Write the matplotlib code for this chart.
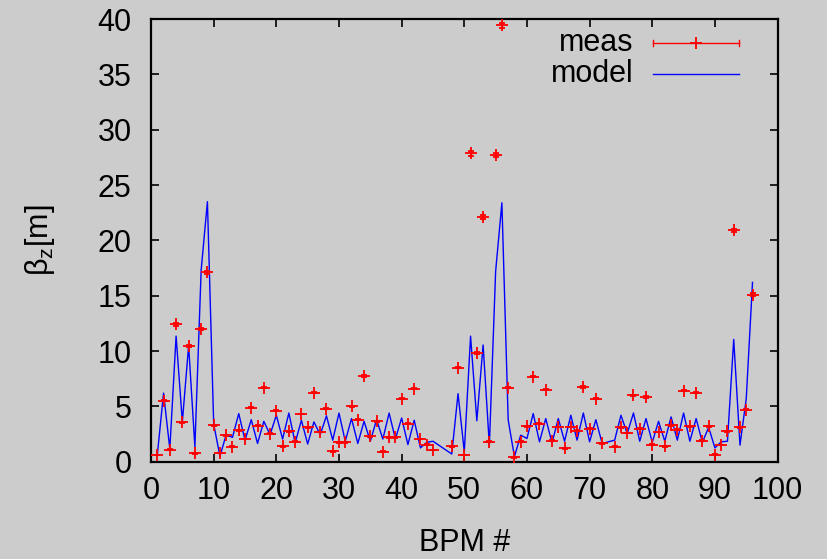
import matplotlib
matplotlib.use('Agg')
import matplotlib.pyplot as plt

plt.rcParams['font.family'] = ['Liberation Sans', 'DejaVu Sans']
plt.rcParams['mathtext.fontset'] = 'custom'
plt.rcParams['mathtext.rm'] = 'Liberation Sans'
plt.rcParams['mathtext.it'] = 'Liberation Sans'

# BPM indices (46, 47 and 73 are absent)
bpm = list(range(1, 46)) + list(range(48, 73)) + list(range(74, 97))

meas = [0.6, 5.5, 1.1, 12.4, 3.55, 10.45, 0.75, 12.0, 17.1, 3.3,
        0.8, 2.4, 1.35, 2.85, 2.05, 4.87, 3.25, 6.7, 2.55, 4.6,
        1.4, 2.75, 1.8, 4.3, 3.1, 6.25, 2.7, 4.8, 0.95, 1.75,
        1.75, 5.0, 3.8, 7.75, 2.3, 3.65, 0.9, 2.2, 2.2, 5.7,
        3.45, 6.6, 2.05, 1.55, 1.05,
        1.4, 8.5, 0.6, 27.85, 9.8, 22.1, 1.8, 27.7, 39.45, 6.7,
        0.4, 1.8, 3.2, 7.7, 3.45, 6.5, 1.9, 3.15, 1.2, 3.15,
        2.8, 6.75, 3.0, 5.7, 1.65,
        1.35, 3.1, 2.6, 6.0, 3.0, 5.85, 1.55, 2.7, 1.4, 3.3,
        2.9, 6.4, 3.2, 6.25, 1.9, 3.2, 0.65, 1.5, 2.75, 20.9,
        3.1, 4.7, 15.1]

meas_err = [.03, .05, .03, .12, .03, .1, .03, .1, .15, .03,
            .03, .03, .03, .03, .03, .03, .03, .05, .03, .03,
            .03, .03, .03, .03, .03, .05, .03, .03, .03, .03,
            .03, .05, .03, .05, .03, .03, .03, .03, .03, .05,
            .03, .05, .03, .03, .03,
            .03, .05, .03, .2, .1, .15, .03, .2, .22, .05,
            .03, .03, .03, .05, .03, .05, .03, .03, .03, .03,
            .03, .05, .03, .05, .03,
            .03, .03, .03, .05, .03, .05, .03, .03, .03, .03,
            .03, .05, .03, .05, .03, .03, .03, .03, .03, .15,
            .03, .03, .12]

model = [0.6, 6.2, 1.15, 11.35, 3.6, 10.5, 1.35, 17.3, 23.5, 3.4,
         0.5, 2.45, 2.2, 4.35, 1.95, 3.8, 1.65, 3.65, 2.45, 4.2,
         2.05, 4.4, 1.7, 3.75, 1.6, 3.6, 2.45, 4.15, 1.95, 4.4,
         1.85, 3.9, 1.65, 3.65, 1.85, 3.8, 2.05, 4.4, 2.05, 3.95,
         1.55, 3.75, 1.25, 1.75, 1.85,
         0.7, 6.15, 0.9, 11.35, 3.7, 10.55, 1.5, 17.2, 23.4, 3.8,
         0.45, 2.4, 2.1, 4.35, 1.8, 3.9, 1.7, 3.9, 1.85, 4.2,
         1.95, 4.4, 1.8, 3.8, 1.65,
         1.95, 4.2, 2.55, 4.4, 1.85, 3.9, 1.75, 3.65, 1.85, 4.05,
         1.95, 4.4, 1.85, 3.9, 1.75, 3.1, 1.25, 1.8, 1.85, 11.05,
         1.5, 5.7, 16.2]

xticks = [0, 10, 20, 30, 40, 50, 60, 70, 80, 90, 100]
yticks = [0, 5, 10, 15, 20, 25, 30, 35, 40]

bg = '#cccccc'
FS = 22

fig = plt.figure(figsize=(8.28, 5.59), dpi=100, facecolor=bg)
ax = fig.add_axes([0.1824, 0.174, 0.7567, 0.792], facecolor=bg)

ax.errorbar(bpm, meas, yerr=meas_err, fmt='+', color='#ff0000',
            markersize=8, markeredgewidth=1.3, elinewidth=1.0, capsize=2.5,
            capthick=1.0, zorder=3)
ax.plot(bpm, model, color='#0000ff', linewidth=1.0, zorder=2)

ax.set_xlim(0, 100)
ax.set_ylim(0, 40)
ax.set_xticks(xticks)
ax.set_yticks(yticks)
ax.tick_params(direction='in', length=5.5, width=1.2, labelsize=FS,
               top=True, right=True, colors='black')
ax.tick_params(axis='x', pad=10)
ax.tick_params(axis='y', pad=14)
for s in ax.spines.values():
    s.set_linewidth(1.6)
    s.set_color('black')

# legend drawn gnuplot-style (text left, sample right)
ym, yo = 0.9455, 0.8748
x0, x1, xt = 0.8016, 0.9389, 0.7695
ax.text(xt, ym, 'meas', transform=ax.transAxes, ha='right', va='center', fontsize=FS)
ax.text(xt, yo, 'model', transform=ax.transAxes, ha='right', va='center', fontsize=FS)
d = 0.0075
lkw = dict(transform=ax.transAxes, clip_on=False, color='#ff0000', linewidth=1.0)
ax.plot([x0, x1], [ym, ym], **lkw)
ax.plot([x0, x0], [ym - d, ym + d], **lkw)
ax.plot([x1, x1], [ym - d, ym + d], **lkw)
ax.plot([(x0 + x1) / 2], [ym], marker='+', markersize=8, markeredgewidth=1.3,
        color='#ff0000', transform=ax.transAxes, clip_on=False)
ax.plot([x0, x1], [yo, yo], transform=ax.transAxes, clip_on=False,
        color='#0000ff', linewidth=1.0)

fig.text(465 / 828, 1 - 543 / 559, 'BPM #', ha='center', va='center', fontsize=FS)
fig.text(40 / 828, 1 - 240 / 559, r'$\mathregular{β_z[m]}$', rotation=90,
         ha='center', va='center', fontsize=FS)

fig.savefig('out.png', dpi=100, facecolor=bg)
